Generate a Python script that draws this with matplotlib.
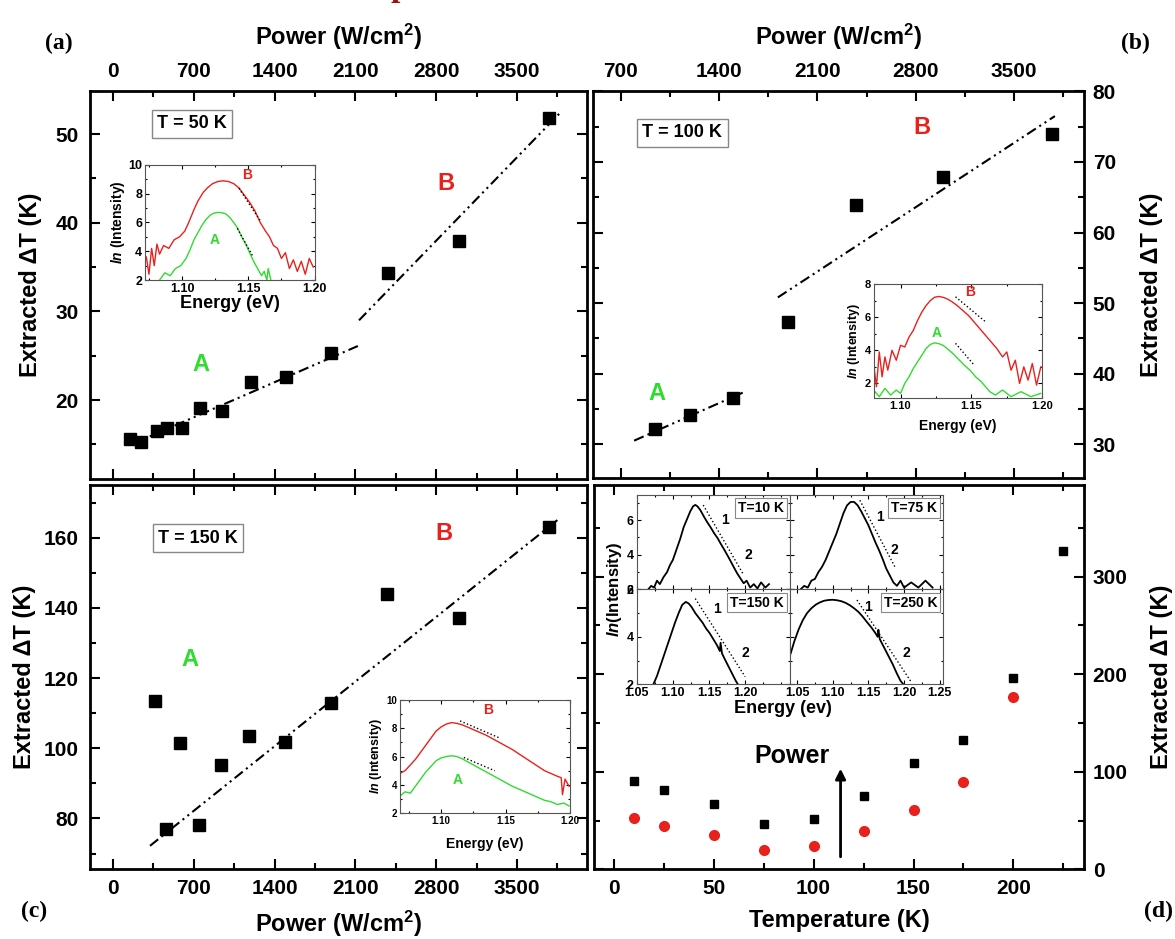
import matplotlib
matplotlib.use('Agg')
import matplotlib.pyplot as plt
from matplotlib.ticker import MultipleLocator

plt.rcParams['font.family'] = ['Liberation Sans', 'DejaVu Sans']
plt.rcParams['font.weight'] = 'bold'
plt.rcParams['axes.labelweight'] = 'bold'
plt.rcParams['mathtext.fontset'] = 'custom'
plt.rcParams['mathtext.rm'] = 'Liberation Sans:bold'
plt.rcParams['mathtext.it'] = 'Liberation Sans:italic:bold'

# ---- panel (a), T = 50 K
pow_a = [146, 239, 378, 471, 597, 750, 943, 1192, 1501, 1892, 2380, 2994, 3774]
dT_a = [15.6, 15.3, 16.5, 16.8, 16.9, 19.1, 18.8, 22.0, 22.6, 25.3, 34.3, 37.9, 51.8]
fitA_a_x = [318, 2121]
fitA_a_y = [15.9, 26.1]
fitB_a_x = [2131, 3881]
fitB_a_y = [29.0, 52.5]

# ---- panel (b), T = 100 K
pow_b = [946, 1191, 1499, 1890, 2376, 2992, 3768]
dT_b = [32.1, 34.1, 36.6, 47.3, 63.9, 67.8, 74.0]
fitA_b_x = [795, 1579]
fitA_b_y = [30.5, 37.4]
fitB_b_x = [1818, 3790]
fitB_b_y = [50.8, 76.5]

# ---- panel (c), T = 150 K
pow_c = [362, 461, 584, 741, 933, 1181, 1490, 1888, 2377, 2994, 3774]
dT_c = [113.5, 76.9, 101.4, 78.1, 95.2, 103.5, 101.9, 113.0, 144.0, 137.2, 163.0]
fit_c_x = [320, 3850]
fit_c_y = [72.2, 165.0]

# ---- panel (d), vs temperature
temp_sq = [10, 25, 50, 75, 100, 125, 150, 175, 200, 225]
dT_sq = [91, 81.6, 67, 46.5, 51.6, 75, 109, 133, 196, 326]
temp_ci = [10, 25, 50, 75, 100, 125, 150, 175, 200]
dT_ci = [52.3, 44.7, 35.2, 20.2, 24.3, 39.6, 61.1, 89.8, 177]

# ---- inset spectra, ln(intensity) vs energy (eV)
e_a_red = [1.073, 1.075, 1.077, 1.079, 1.081, 1.083, 1.086, 1.09, 1.094, 1.098, 1.102, 1.105,
           1.109, 1.112, 1.116, 1.119, 1.123, 1.127, 1.131, 1.135, 1.139, 1.143, 1.147, 1.151,
           1.155, 1.159, 1.163, 1.166, 1.169, 1.172, 1.175, 1.178, 1.181, 1.184, 1.187, 1.19,
           1.193, 1.196, 1.199]
ln_a_red = [3.6, 2.4, 4.2, 3.0, 4.5, 3.8, 4.4, 4.2, 4.8, 5.0, 5.4, 6.0, 6.9, 7.5, 8.1, 8.4,
            8.7, 8.85, 8.9, 8.85, 8.7, 8.4, 7.9, 7.4, 6.8, 6.0, 5.4, 5.0, 4.4, 4.2, 3.5, 3.9,
            2.8, 3.4, 2.6, 3.3, 2.4, 3.5, 2.9]
e_a_grn = [1.083, 1.087, 1.091, 1.095, 1.099, 1.103, 1.106, 1.109, 1.112, 1.115, 1.118, 1.121,
           1.124, 1.127, 1.130, 1.133, 1.136, 1.139, 1.142, 1.145, 1.148, 1.151, 1.154, 1.157,
           1.160, 1.162, 1.164, 1.165, 1.167]
ln_a_grn = [2.0, 2.5, 2.3, 2.8, 3.0, 3.5, 4.1, 4.8, 5.3, 5.8, 6.2, 6.5, 6.65, 6.7, 6.68, 6.6,
            6.35, 6.0, 5.6, 5.0, 4.5, 3.9, 3.3, 2.8, 2.3, 2.6, 2.0, 2.8, 2.0]

e_b_red = [1.081, 1.083, 1.085, 1.087, 1.089, 1.091, 1.094, 1.097, 1.1, 1.103, 1.106, 1.109,
           1.112, 1.115, 1.118, 1.121, 1.124, 1.127, 1.13, 1.133, 1.136, 1.14, 1.144, 1.148,
           1.152, 1.156, 1.16, 1.164, 1.168, 1.172, 1.175, 1.178, 1.181, 1.184, 1.187, 1.19,
           1.193, 1.196, 1.199]
ln_b_red = [3.2, 1.8, 3.9, 2.4, 3.6, 2.8, 4.0, 3.4, 4.3, 4.2, 4.8, 5.2, 5.8, 6.3, 6.7, 7.0,
            7.2, 7.25, 7.2, 7.1, 6.95, 6.7, 6.4, 6.1, 5.7, 5.3, 4.9, 4.5, 4.1, 3.6, 3.9, 2.8,
            3.4, 2.0, 3.0, 2.2, 3.2, 1.9, 3.0]
e_b_grn = [1.081, 1.085, 1.089, 1.093, 1.097, 1.100, 1.103, 1.106, 1.109, 1.112, 1.115, 1.118,
           1.121, 1.124, 1.127, 1.130, 1.133, 1.137, 1.141, 1.145, 1.149, 1.153, 1.157, 1.160,
           1.163, 1.167, 1.172, 1.178, 1.185, 1.192, 1.199]
ln_b_grn = [1.6, 1.2, 1.7, 1.3, 1.6, 1.4, 2.0, 2.4, 2.9, 3.3, 3.7, 4.1, 4.35, 4.45, 4.4, 4.3,
            4.1, 3.8, 3.45, 3.1, 2.8, 2.4, 2.1, 1.8, 1.5, 1.3, 1.6, 1.2, 1.5, 1.2, 1.4]

e_c_red = [1.068, 1.072, 1.076, 1.080, 1.084, 1.088, 1.092, 1.096, 1.100, 1.104, 1.108, 1.112,
           1.116, 1.12, 1.125, 1.13, 1.135, 1.14, 1.145, 1.15, 1.155, 1.16, 1.165, 1.17, 1.175,
           1.18, 1.185, 1.19, 1.193, 1.194, 1.196, 1.199]
ln_c_red = [4.8, 5.0, 5.4, 5.8, 6.3, 6.8, 7.3, 7.8, 8.1, 8.3, 8.4, 8.35, 8.25, 8.1, 7.9, 7.7,
            7.5, 7.25, 7.0, 6.75, 6.5, 6.2, 5.9, 5.6, 5.3, 5.0, 4.8, 4.6, 4.5, 3.3, 4.4, 3.9]
e_c_grn = [1.068, 1.072, 1.076, 1.080, 1.084, 1.088, 1.092, 1.096, 1.100, 1.104, 1.108, 1.112,
           1.116, 1.12, 1.125, 1.13, 1.135, 1.14, 1.145, 1.15, 1.155, 1.16, 1.165, 1.17, 1.175,
           1.18, 1.185, 1.19, 1.195, 1.199]
ln_c_grn = [3.2, 3.5, 3.4, 3.9, 4.4, 4.9, 5.3, 5.7, 5.9, 6.0, 6.05, 6.0, 5.85, 5.65, 5.4, 5.15,
            4.9, 4.65, 4.4, 4.15, 3.9, 3.7, 3.5, 3.3, 3.1, 2.9, 2.8, 2.6, 2.7, 2.5]

e_10 = [1.066, 1.07, 1.074, 1.078, 1.082, 1.087, 1.092, 1.096, 1.1, 1.105, 1.11, 1.115, 1.12,
        1.124, 1.128, 1.131, 1.134, 1.138, 1.143, 1.148, 1.152, 1.157, 1.162, 1.166, 1.171,
        1.175, 1.179, 1.184, 1.189, 1.194, 1.198, 1.202, 1.207, 1.212, 1.217, 1.222, 1.228, 1.233]
ln_10 = [2.0, 2.2, 2.1, 2.5, 2.3, 2.7, 3.0, 3.4, 3.7, 4.3, 4.9, 5.6, 6.1, 6.5, 6.8, 6.88, 6.8,
         6.58, 6.2, 5.85, 5.6, 5.25, 4.95, 4.65, 4.3, 4.0, 3.7, 3.3, 2.92, 2.6, 2.35, 2.5, 2.1,
         2.3, 2.05, 2.4, 2.1, 2.3]
e_75 = [1.055, 1.06, 1.065, 1.07, 1.075, 1.08, 1.085, 1.09, 1.095, 1.1, 1.105, 1.11, 1.115,
        1.12, 1.125, 1.13, 1.135, 1.14, 1.145, 1.15, 1.155, 1.16, 1.165, 1.17, 1.175, 1.18,
        1.185, 1.19, 1.195, 1.2, 1.21, 1.22, 1.23, 1.24]
ln_75 = [2.0, 2.2, 2.1, 2.5, 2.6, 3.0, 3.3, 3.7, 4.2, 4.7, 5.2, 5.8, 6.4, 6.85, 7.05, 7.05,
         6.85, 6.5, 6.1, 5.7, 5.2, 4.7, 4.25, 3.75, 3.2, 2.8, 2.4, 2.2, 2.5, 2.1, 2.4, 2.1,
         2.5, 2.1]
e_150 = [1.073, 1.078, 1.083, 1.088, 1.093, 1.098, 1.103, 1.108, 1.113, 1.118, 1.122, 1.126,
         1.131, 1.136, 1.141, 1.146, 1.151, 1.156, 1.161, 1.165, 1.166, 1.168, 1.172, 1.177,
         1.182, 1.187, 1.19]
ln_150 = [2.0, 2.35, 2.8, 3.25, 3.7, 4.15, 4.6, 5.0, 5.35, 5.47, 5.4, 5.25, 5.0, 4.8, 4.6,
          4.35, 4.15, 3.9, 3.65, 3.4, 3.75, 3.3, 3.05, 2.75, 2.45, 2.15, 2.0]
e_250 = [1.041, 1.046, 1.052, 1.058, 1.064, 1.07, 1.076, 1.082, 1.088, 1.094, 1.1, 1.106,
         1.112, 1.118, 1.124, 1.13, 1.136, 1.142, 1.148, 1.154, 1.16, 1.163, 1.164, 1.166,
         1.172, 1.178, 1.184, 1.19, 1.195, 1.199]
ln_250 = [3.3, 3.8, 4.3, 4.7, 5.0, 5.2, 5.35, 5.45, 5.52, 5.55, 5.56, 5.54, 5.5, 5.43, 5.33,
          5.2, 5.05, 4.85, 4.62, 4.4, 4.15, 4.0, 4.3, 3.9, 3.55, 3.2, 2.85, 2.45, 2.15, 2.0]

RED = '#e8211d'
GRN = '#2fdc2f'
DASH = (5, 2, 1, 2, 1, 2)


def style_main(ax):
    ax.tick_params(which='both', direction='in', top=True, bottom=True, left=True,
                   right=True, width=1.5, labelsize=15)
    ax.tick_params(which='major', length=7)
    ax.tick_params(which='minor', length=4)
    for s in ax.spines.values():
        s.set_linewidth(2)


def style_inset(ax, size=8):
    ax.tick_params(which='both', direction='in', top=True, right=True, width=0.8,
                   labelsize=size, pad=2)
    ax.tick_params(which='major', length=3)
    ax.tick_params(which='minor', length=1.5)
    for s in ax.spines.values():
        s.set_linewidth(0.8)
        s.set_color('#555555')


def tbox(ax, x, y, s, size=13):
    ax.text(x, y, s, transform=ax.transAxes, fontsize=size, ha='center', va='center',
            bbox=dict(boxstyle='square,pad=0.3', fc='white', ec='#888888', lw=1))


def letter(ax, x, y, s, color):
    ax.text(x, y, s, transform=ax.transAxes, color=color, fontsize=17, ha='center', va='center')


fig = plt.figure(figsize=(11.75, 9.39), dpi=100)

ylab = 'Extracted \u0394T (K)'
xlab = 'Power (W/cm$^2$)'

# ---------------- (a)
ax = fig.add_axes([0.0766, 0.4899, 0.4233, 0.4135])
style_main(ax)
ax.plot(fitA_a_x, fitA_a_y, color='k', lw=1.5, dashes=DASH)
ax.plot(fitB_a_x, fitB_a_y, color='k', lw=1.5, dashes=DASH)
ax.plot(pow_a, dT_a, 's', color='k', ms=8)
ax.set_xlim(-200, 4110)
ax.set_ylim(11.1, 54.9)
ax.xaxis.set_major_locator(MultipleLocator(700))
ax.xaxis.set_minor_locator(MultipleLocator(350))
ax.yaxis.set_major_locator(MultipleLocator(10))
ax.yaxis.set_minor_locator(MultipleLocator(5))
ax.tick_params(axis='x', labeltop=True, labelbottom=False, pad=7)
ax.tick_params(axis='y', pad=8)
ax.xaxis.set_label_position('top')
ax.set_xlabel(xlab, fontsize=17, labelpad=12)
ax.set_ylabel(ylab, fontsize=17, labelpad=10)
tbox(ax, 0.205, 0.915, 'T = 50 K')
letter(ax, 0.223, 0.294, 'A', GRN)
letter(ax, 0.716, 0.762, 'B', RED)

ia = fig.add_axes([0.1234, 0.7018, 0.1443, 0.1225])
style_inset(ia, 9)
ia.plot(e_a_red, ln_a_red, color=RED, lw=1)
ia.plot(e_a_grn, ln_a_grn, color=GRN, lw=1)
ia.plot([1.1429, 1.1595], [8.38, 6.06], ':', color='k', lw=1)
ia.plot([1.1417, 1.1536], [5.59, 3.62], ':', color='k', lw=1)
ia.text(1.1488, 9.3, 'B', color=RED, fontsize=10, ha='center', va='center')
ia.text(1.1243, 4.78, 'A', color=GRN, fontsize=10, ha='center', va='center')
ia.set_xlim(1.072, 1.20)
ia.set_ylim(2, 10)
ia.xaxis.set_major_locator(MultipleLocator(0.05))
ia.xaxis.set_minor_locator(MultipleLocator(0.025))
ia.yaxis.set_major_locator(MultipleLocator(2))
ia.yaxis.set_minor_locator(MultipleLocator(1))
ia.set_xlabel('Energy (eV)', fontsize=13, labelpad=0)
ia.set_ylabel('$\\mathit{ln}$ (Intensity)', fontsize=10, labelpad=1)

# ---------------- (b)
ax = fig.add_axes([0.5044, 0.4909, 0.4185, 0.4125])
style_main(ax)
ax.plot(fitA_b_x, fitA_b_y, color='k', lw=1.5, dashes=DASH)
ax.plot(fitB_b_x, fitB_b_y, color='k', lw=1.5, dashes=DASH)
ax.plot(pow_b, dT_b, 's', color='k', ms=8)
ax.set_xlim(500, 4000)
ax.set_ylim(25.2, 80.1)
ax.xaxis.set_major_locator(MultipleLocator(700))
ax.xaxis.set_minor_locator(MultipleLocator(350))
ax.yaxis.set_major_locator(MultipleLocator(10))
ax.yaxis.set_minor_locator(MultipleLocator(5))
ax.tick_params(axis='x', labeltop=True, labelbottom=False, pad=7)
ax.tick_params(axis='y', labelright=True, labelleft=False, pad=6)
ax.xaxis.set_label_position('top')
ax.yaxis.set_label_position('right')
ax.set_xlabel(xlab, fontsize=17, labelpad=12)
ax.set_ylabel(ylab, fontsize=17, labelpad=17, rotation=90)
tbox(ax, 0.182, 0.891, 'T = 100 K')
letter(ax, 0.131, 0.217, 'A', GRN)
letter(ax, 0.670, 0.904, 'B', RED)

ib = fig.add_axes([0.7435, 0.5758, 0.1435, 0.1217])
style_inset(ib, 8)
ib.plot(e_b_red, ln_b_red, color=RED, lw=1)
ib.plot(e_b_grn, ln_b_grn, color=GRN, lw=1)
ib.plot([1.1388, 1.16], [7.23, 5.72], ':', color='k', lw=1)
ib.plot([1.1388, 1.152], [4.42, 3.1], ':', color='k', lw=1)
ib.text(1.1493, 7.54, 'B', color=RED, fontsize=10, ha='center', va='center')
ib.text(1.1256, 5.06, 'A', color=GRN, fontsize=10, ha='center', va='center')
ib.set_xlim(1.081, 1.20)
ib.set_ylim(1.1, 8)
ib.xaxis.set_major_locator(MultipleLocator(0.05))
ib.xaxis.set_minor_locator(MultipleLocator(0.025))
ib.yaxis.set_major_locator(MultipleLocator(2))
ib.yaxis.set_minor_locator(MultipleLocator(1))
ib.set_xlabel('Energy (eV)', fontsize=10, labelpad=6)
ib.set_ylabel('$\\mathit{ln}$ (Intensity)', fontsize=9, labelpad=2)

# ---------------- (c)
ax = fig.add_axes([0.0766, 0.0742, 0.4233, 0.4093])
style_main(ax)
ax.plot(fit_c_x, fit_c_y, color='k', lw=1.5, dashes=DASH)
ax.plot(pow_c, dT_c, 's', color='k', ms=8)
ax.set_xlim(-200, 4110)
ax.set_ylim(65.5, 175)
ax.xaxis.set_major_locator(MultipleLocator(700))
ax.xaxis.set_minor_locator(MultipleLocator(350))
ax.yaxis.set_major_locator(MultipleLocator(20))
ax.yaxis.set_minor_locator(MultipleLocator(10))
ax.tick_params(axis='x', pad=7)
ax.tick_params(axis='y', pad=8)
ax.set_xlabel(xlab, fontsize=17, labelpad=8)
ax.set_ylabel(ylab, fontsize=17, labelpad=6)
tbox(ax, 0.217, 0.862, 'T = 150 K')
letter(ax, 0.200, 0.545, 'A', GRN)
letter(ax, 0.712, 0.874, 'B', RED)

ic = fig.add_axes([0.3404, 0.1342, 0.1449, 0.1203])
style_inset(ic, 7)
ic.plot(e_c_red, ln_c_red, color=RED, lw=1)
ic.plot(e_c_grn, ln_c_grn, color=GRN, lw=1)
ic.plot([1.1146, 1.1445], [8.52, 7.34], ':', color='k', lw=1)
ic.plot([1.1175, 1.1415], [5.93, 4.99], ':', color='k', lw=1)
ic.text(1.1367, 9.29, 'B', color=RED, fontsize=10, ha='center', va='center')
ic.text(1.1125, 4.35, 'A', color=GRN, fontsize=10, ha='center', va='center')
ic.set_xlim(1.068, 1.20)
ic.set_ylim(2, 10)
ic.xaxis.set_major_locator(MultipleLocator(0.05))
ic.xaxis.set_minor_locator(MultipleLocator(0.025))
ic.yaxis.set_major_locator(MultipleLocator(2))
ic.yaxis.set_minor_locator(MultipleLocator(1))
ic.set_xlabel('Energy (eV)', fontsize=10, labelpad=8)
ic.set_ylabel('$\\mathit{ln}$ (Intensity)', fontsize=9, labelpad=2)

# ---------------- (d)
ax = fig.add_axes([0.5053, 0.0742, 0.4176, 0.4093])
style_main(ax)
ax.plot(temp_sq, dT_sq, 's', color='k', ms=5.5)
ax.plot(temp_ci, dT_ci, 'o', color=RED, ms=7)
ax.annotate('', xy=(113.5, 106), xytext=(113.5, 10),
            arrowprops=dict(arrowstyle='-|>', color='k', lw=2, mutation_scale=15))
ax.text(89, 116, 'Power', fontsize=18, ha='center', va='center')
ax.set_xlim(-10, 235.5)
ax.set_ylim(0, 394)
ax.xaxis.set_major_locator(MultipleLocator(50))
ax.xaxis.set_minor_locator(MultipleLocator(25))
ax.yaxis.set_major_locator(MultipleLocator(100))
ax.yaxis.set_minor_locator(MultipleLocator(50))
ax.tick_params(axis='x', pad=7)
ax.tick_params(axis='y', labelright=True, labelleft=False, pad=6)
ax.yaxis.set_label_position('right')
ax.set_xlabel('Temperature (K)', fontsize=17, labelpad=8)
ax.set_ylabel(ylab, fontsize=17, labelpad=16)

# 2x2 spectra inset in (d)
gx = [0.5419, 0.6723, 0.8028]
gy = [0.2712, 0.3724, 0.4728]
spec = [
    (0, 1, e_10, ln_10, 'T=10 K', (1.05, 1.262), (2, 7.45), [1.142, 1.198], [6.87, 2.83], (1.172, 6.0), (1.205, 4.0)),
    (1, 1, e_75, ln_75, 'T=75 K', (1.04, 1.255), (2, 7.45), [1.138, 1.187], [7.15, 3.31], (1.166, 6.19), (1.187, 4.27)),
    (0, 0, e_150, ln_150, 'T=150 K', (1.05, 1.262), (2, 6), [1.131, 1.2], [5.61, 2.32], (1.161, 5.19), (1.2, 3.3)),
    (1, 0, e_250, ln_250, 'T=250 K', (1.04, 1.255), (2, 6), [1.134, 1.21], [5.55, 2.1], (1.15, 5.26), (1.203, 3.3)),
]
for col, row, ex, ly, lab, xl, yl, dx, dy, p1, p2 in spec:
    sa = fig.add_axes([gx[col], gy[row], gx[col + 1] - gx[col], gy[row + 1] - gy[row]])
    style_inset(sa, 9)
    sa.plot(ex, ly, color='k', lw=1.3)
    sa.plot(dx, dy, ':', color='k', lw=1)
    sa.text(p1[0], p1[1], '1', fontsize=10, ha='center', va='center')
    sa.text(p2[0], p2[1], '2', fontsize=10, ha='center', va='center')
    sa.text(0.96, 0.86, lab, transform=sa.transAxes, fontsize=10, ha='right', va='center',
            bbox=dict(boxstyle='square,pad=0.2', fc='white', ec='#888888', lw=0.8))
    sa.set_xlim(*xl)
    sa.set_ylim(*yl)
    sa.xaxis.set_major_locator(MultipleLocator(0.05))
    sa.xaxis.set_minor_locator(MultipleLocator(0.025))
    sa.yaxis.set_major_locator(MultipleLocator(2))
    sa.yaxis.set_minor_locator(MultipleLocator(1))
    if row == 1:
        sa.tick_params(axis='x', labelbottom=False)
    if col == 1:
        sa.tick_params(axis='y', labelleft=False)
    else:
        sa.set_xticks([1.05, 1.10, 1.15, 1.20])

fig.text(0.523, 0.372, '$\\mathit{ln}$(Intensity)', fontsize=12, rotation=90, ha='center', va='center')
fig.text(0.666, 0.246, 'Energy (ev)', fontsize=13, ha='center', va='center')

# panel letters
for x, y, s in [(0.05, 0.954, '(a)'), (0.966, 0.954, '(b)'), (0.029, 0.029, '(c)'), (0.986, 0.029, '(d)')]:
    fig.text(x, y, s, fontsize=17, family='Liberation Serif', ha='center', va='center')
fig.text(0.34, 1.004, 'p', fontsize=24, family='Liberation Serif', color='#a01010', ha='center', va='baseline')

fig.savefig('out.png', dpi=100)
